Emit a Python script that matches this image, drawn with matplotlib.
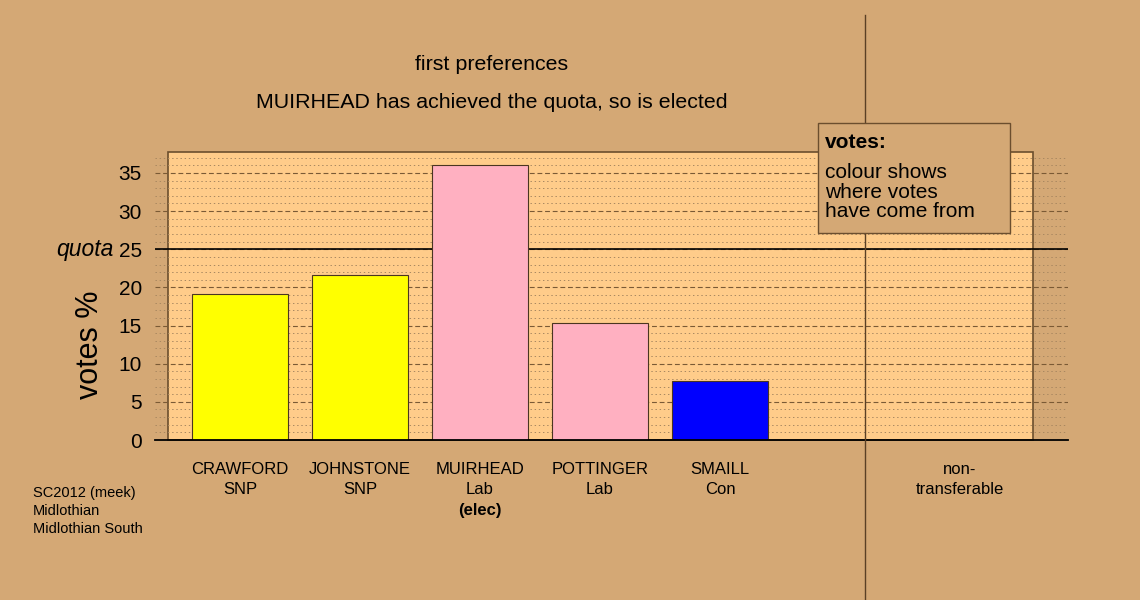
import matplotlib
matplotlib.use("Agg")
import matplotlib.pyplot as plt
import matplotlib.transforms as mtransforms
from matplotlib.patches import Rectangle

# data
names = ["CRAWFORD", "JOHNSTONE", "MUIRHEAD", "POTTINGER", "SMAILL"]
parties = ["SNP", "SNP", "Lab", "Lab", "Con"]
votes = [19.1, 21.6, 36.0, 15.3, 7.7]
bar_colours = ["#FFFF00", "#FFFF00", "#FFB0C1", "#FFB0C1", "#0000FF"]
elected = ["MUIRHEAD"]
quota = 25
yticks = [0, 5, 10, 15, 20, 25, 30, 35]
nontrans_label = "non-\ntransferable"
info_lines = ["SC2012 (meek)", "Midlothian", "Midlothian South"]

BG = "#D4A875"
PANEL = "#FFCC8A"
EDGE = "#6B4E2E"

plt.rcParams["font.family"] = ["Liberation Sans", "DejaVu Sans"]
plt.rcParams["lines.scale_dashes"] = False

W, H = 1140, 600
fig = plt.figure(figsize=(W / 100, H / 100), dpi=100, facecolor=BG)

# axes spans the grid area (px 155..1068 wide, 152..440 high)
ax = fig.add_axes([155 / W, 1 - 440 / H, 913 / W, 288 / H])
ax.set_facecolor(BG)
ax.set_xlim(-0.708, 6.9)
ax.set_ylim(0, 37.75)
for s in ax.spines.values():
    s.set_visible(False)

# panel background
ax.add_patch(Rectangle((-0.6, 0), 7.208, 37.75, facecolor=PANEL,
                       edgecolor=EDGE, linewidth=1.2, zorder=0.1, clip_on=False))

# grid (kept behind the bars)
ax.set_axisbelow(True)
ax.set_yticks(yticks)
ax.set_yticks([v for v in range(0, 38) if v % 5], minor=True)
ax.set_xticks([])
ax.tick_params(axis="y", which="both", length=0, pad=9.5, labelsize=15)
ax.grid(which="major", axis="y", color="#7A5A35", linestyle=(0, (3.5, 2)), linewidth=0.8)
ax.grid(which="minor", axis="y", color="#A88760", linestyle=(0, (1.0, 2.0)), linewidth=0.7)

# bars
x = list(range(len(names)))
ax.bar(x, votes, width=0.8, color=bar_colours, edgecolor="#4A3520", linewidth=0.8, zorder=2)

# baseline and quota line
ax.axhline(0, color="black", linewidth=1.3, zorder=3, clip_on=False)
ax.axhline(quota, color="black", linewidth=1.2, zorder=1.5)
ax.text(-0.045, quota, "quota", transform=mtransforms.blended_transform_factory(ax.transAxes, ax.transData),
        ha="right", va="center", fontsize=16.5, style="italic")

# separator for non-transferable column
ax.axvline(5.208, ymin=(440 - 600) / 288, ymax=(440 - 15) / 288, color="#5A4025",
           linewidth=1.0, clip_on=False, zorder=4)

# x labels
tr = mtransforms.blended_transform_factory(ax.transData, fig.transFigure)
for xi, n, p in zip(x, names, parties):
    ax.text(xi, 1 - 470 / H, n, transform=tr, ha="center", va="center", fontsize=12)
    ax.text(xi, 1 - 490 / H, p, transform=tr, ha="center", va="center", fontsize=12)
    if n in elected:
        ax.text(xi, 1 - 510 / H, "(elec)", transform=tr, ha="center", va="center",
                fontsize=12, fontweight="bold")
for i, line in enumerate(nontrans_label.split("\n")):
    ax.text(6.0, 1 - (470 + 20 * i) / H, line, transform=tr, ha="center", va="center", fontsize=12)

# titles
fig.text(492 / W, 1 - 65 / H, "first preferences", ha="center", va="center", fontsize=15.4)
fig.text(492 / W, 1 - 102 / H, "MUIRHEAD has achieved the quota, so is elected",
         ha="center", va="center", fontsize=15.4)
fig.text(90 / W, 1 - 345 / H, "votes %", rotation=90, ha="center", va="center", fontsize=22)

# bottom-left info
for i, line in enumerate(info_lines):
    fig.text(33 / W, 1 - (493 + 18 * i) / H, line, ha="left", va="center", fontsize=10.5)

# legend box
fig.add_artist(Rectangle((818 / W, 1 - 233 / H), 192 / W, 110 / H, transform=fig.transFigure,
                         facecolor=BG, edgecolor=EDGE, linewidth=1.0, zorder=5))
fig.text(825 / W, 1 - 142 / H, "votes:", ha="left", va="center", fontsize=15,
         fontweight="bold", zorder=6)
for i, line in enumerate(["colour shows", "where votes", "have come from"]):
    fig.text(825 / W, 1 - (172 + 20 * i) / H, line, ha="left", va="center", fontsize=15, zorder=6)

fig.savefig("out.png", dpi=100, facecolor=BG)
